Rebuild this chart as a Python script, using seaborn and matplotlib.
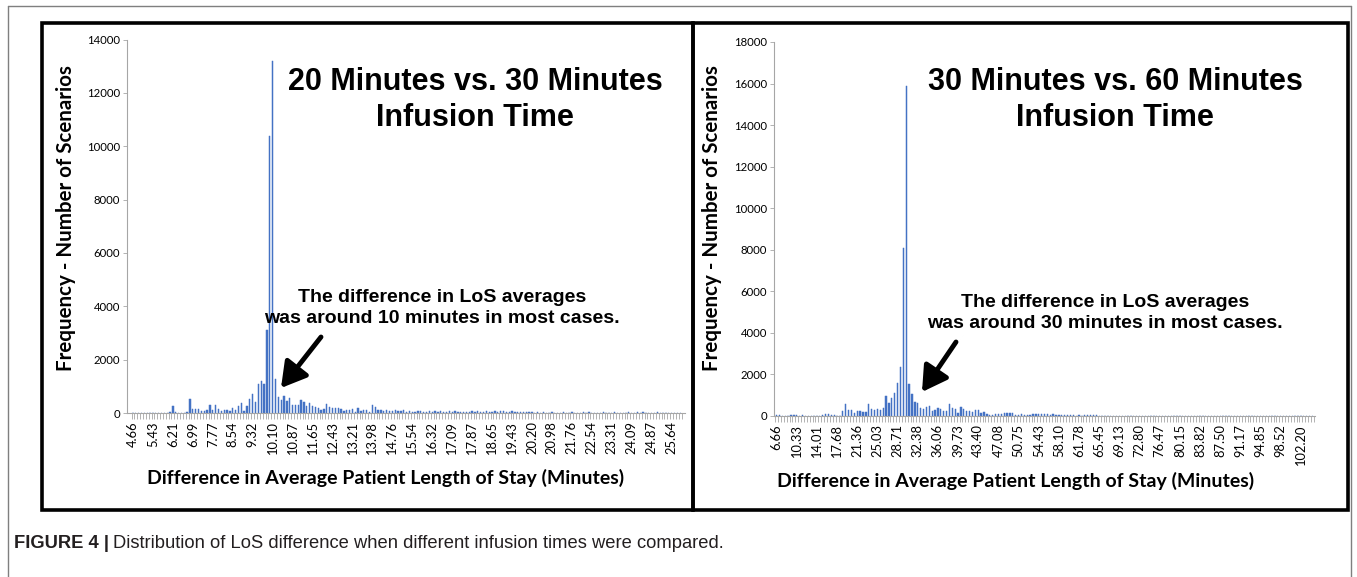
import matplotlib
matplotlib.use('Agg')
import matplotlib.pyplot as plt
import pandas as pd
import seaborn as sns
from matplotlib.lines import Line2D
from matplotlib.patches import FancyArrowPatch, Rectangle

W, H = 1357, 577
BLUE = '#4472C4'
AXIS_GRAY = '#A6A6A6'
LABEL_STEP = 7

# x tick labels (every 7th histogram bin)
left_labels = ['4.66', '5.43', '6.21', '6.99', '7.77', '8.54', '9.32', '10.10', '10.87',
               '11.65', '12.43', '13.21', '13.98', '14.76', '15.54', '16.32', '17.09',
               '17.87', '18.65', '19.43', '20.20', '20.98', '21.76', '22.54', '23.31',
               '24.09', '24.87', '25.64']
right_labels = ['6.66', '10.33', '14.01', '17.68', '21.36', '25.03', '28.71', '32.38',
                '36.06', '39.73', '43.40', '47.08', '50.75', '54.43', '58.10', '61.78',
                '65.45', '69.13', '72.80', '76.47', '80.15', '83.82', '87.50', '91.17',
                '94.85', '98.52', '102.20']

# 20 vs 30 minutes: number of scenarios per bin
left_counts = [
    0, 0, 0, 0, 0, 0, 0, 0, 0, 0,
    0, 0, 0, 20, 250, 30, 0, 0, 0, 30,
    525, 160, 140, 165, 60, 60, 100, 290, 100, 290,
    140, 90, 100, 125, 75, 190, 125, 260, 360, 75,
    275, 525, 710, 410, 1100, 1210, 1090, 3100, 10400, 13200,
    1280, 590, 475, 625, 440, 560, 290, 290, 290, 475,
    400, 275, 375, 250, 225, 190, 125, 165, 340, 210,
    175, 190, 190, 150, 60, 125, 125, 150, 40, 190,
    60, 100, 100, 40, 300, 225, 125, 100, 60, 100,
    90, 60, 125, 60, 90, 125, 25, 60, 25, 40,
    90, 75, 25, 40, 60, 50, 60, 40, 60, 40,
    25, 75, 25, 60, 25, 40, 25, 40, 25, 60,
    40, 60, 25, 40, 75, 40, 25, 60, 40, 90,
    60, 40, 25, 60, 40, 25, 40, 25, 25, 40,
    25, 0, 25, 0, 25, 0, 0, 25, 0, 0,
    0, 25, 0, 0, 25, 0, 0, 0, 25, 0,
    40, 0, 0, 0, 0, 25, 0, 0, 0, 25,
    0, 0, 0, 0, 25, 0, 0, 25, 0, 25,
    0, 0, 0, 0, 25, 0, 0, 0, 0, 0,
    0, 0, 0,
]

# 30 vs 60 minutes: number of scenarios per bin
right_counts = [
    30, 30, 0, 0, 0, 60, 50, 30, 0, 30,
    0, 0, 0, 0, 0, 0, 60, 110, 110, 50,
    30, 15, 10, 256, 576, 290, 290, 128, 256, 240,
    190, 190, 576, 320, 300, 320, 290, 384, 960, 640,
    880, 1120, 1600, 2370, 8080, 15900, 1520, 1056, 670, 640,
    400, 336, 450, 465, 240, 290, 400, 336, 256, 256,
    560, 370, 320, 160, 450, 320, 240, 256, 180, 290,
    290, 128, 210, 80, 30, 64, 80, 96, 96, 160,
    160, 160, 128, 64, 30, 80, 30, 64, 30, 80,
    80, 96, 96, 80, 96, 64, 96, 64, 50, 64,
    50, 30, 50, 50, 15, 50, 15, 30, 30, 30,
    64, 64, 15, 0, 0, 0, 0, 0, 0, 0,
    0, 0, 0, 0, 0, 10, 0, 0, 0, 0,
    0, 0, 0, 0, 10, 0, 0, 0, 0, 0,
    0, 0, 0, 0, 0, 0, 0, 10, 0, 0,
    0, 0, 0, 0, 0, 0, 0, 0, 0, 0,
    0, 0, 0, 0, 0, 0, 0, 0, 0, 0,
    0, 0, 0, 0, 0, 0, 0, 0, 0, 0,
    0, 0, 0, 0, 0, 0, 0,
]

sns.set_theme(style='white')
plt.rcParams['font.family'] = ['Lato', 'DejaVu Sans']
plt.rcParams['text.color'] = 'black'


def px_rect(x0, y0, x1, y1):
    """Pixel box (top-left origin) -> figure fraction rect."""
    return [x0 / W, 1 - y1 / H, (x1 - x0) / W, (y1 - y0) / H]


def fx(x):
    return x / W


def fy(y):
    return 1 - y / H


def draw_hist(fig, rect, counts, labels, ymax, xlim):
    ax = fig.add_axes(rect)
    df = pd.DataFrame({'bin': range(len(counts)), 'count': counts})
    sns.barplot(data=df, x='bin', y='count', native_scale=True, color=BLUE,
                saturation=1, width=0.45, errorbar=None, ax=ax,
                edgecolor=BLUE, linewidth=0.35)
    ax.set_xlim(*xlim)
    ax.set_ylim(0, ymax)
    ax.set_xlabel('')
    ax.set_ylabel('')

    ax.set_xticks([i * LABEL_STEP for i in range(len(labels))])
    ax.set_xticklabels(labels, rotation=90, fontsize=9.3)
    ax.set_xticks([i - 0.5 for i in range(len(counts) + 1)], minor=True)
    ax.set_yticks(range(0, ymax + 1, 2000))
    ax.set_yticklabels([str(v) for v in range(0, ymax + 1, 2000)], fontsize=8.2)

    ax.tick_params(axis='x', which='major', length=0, pad=6, labelcolor='black')
    ax.tick_params(axis='x', which='minor', length=4, width=0.6, color=AXIS_GRAY,
                   direction='out', bottom=True)
    ax.tick_params(axis='y', length=3, width=0.6, color=AXIS_GRAY, direction='out',
                   left=True, pad=2, labelcolor='black')

    for side in ('top', 'right'):
        ax.spines[side].set_visible(False)
    for side in ('left', 'bottom'):
        ax.spines[side].set_color(AXIS_GRAY)
        ax.spines[side].set_linewidth(0.8)
    ax.grid(False)
    return ax


fig = plt.figure(figsize=(W / 100, H / 100), dpi=100)
fig.patch.set_facecolor('white')

# outer thin frame
fig.add_artist(Line2D([fx(8), fx(1351)], [fy(6), fy(6)], color='#7f7f7f', lw=1))
fig.add_artist(Line2D([fx(8), fx(8)], [fy(6), 0], color='#7f7f7f', lw=1))
fig.add_artist(Line2D([fx(1351), fx(1351)], [fy(6), 0], color='#7f7f7f', lw=1))

# thick panel borders
for x0, x1 in [(42, 693), (693, 1348)]:
    r = px_rect(x0, 23, x1, 510)
    fig.add_artist(Rectangle((r[0], r[1]), r[2], r[3], transform=fig.transFigure,
                             fill=False, ec='black', lw=2.6))

draw_hist(fig, px_rect(127, 39.5, 685, 413), left_counts, left_labels, 14000, (-2.1, 193.7))
draw_hist(fig, px_rect(774, 42, 1315, 416), right_counts, right_labels, 18000, (-0.9, 186.9))

# axis titles
for x, y in [(66, 218), (712, 218)]:
    fig.text(fx(x), fy(y), 'Frequency - Number of Scenarios', rotation=90,
             ha='center', va='center', fontsize=14.8, fontweight='bold')
for x, y in [(386, 478), (1016, 481)]:
    fig.text(fx(x), fy(y), 'Difference in Average Patient Length of Stay (Minutes)',
             ha='center', va='center', fontsize=14, fontweight='bold')

# panel headings
heading_font = ['Liberation Sans', 'DejaVu Sans']
fig.text(fx(475), fy(100), '20 Minutes vs. 30 Minutes\nInfusion Time', ha='center',
         va='center', fontsize=22, fontweight='bold', family=heading_font, linespacing=1.3)
fig.text(fx(1115), fy(100), '30 Minutes vs. 60 Minutes\nInfusion Time', ha='center',
         va='center', fontsize=22, fontweight='bold', family=heading_font, linespacing=1.3)

# annotations with arrows
fig.text(fx(442), fy(308), 'The difference in LoS averages\nwas around 10 minutes in most cases.',
         ha='center', va='center', fontsize=14, fontweight='bold', family=heading_font,
         linespacing=1.25)
fig.text(fx(1105), fy(313), 'The difference in LoS averages\nwas around 30 minutes in most cases.',
         ha='center', va='center', fontsize=14, fontweight='bold', family=heading_font,
         linespacing=1.25)
for (xa, ya), (xb, yb) in [((321, 337), (281, 388)), ((956, 342), (922, 392))]:
    fig.add_artist(FancyArrowPatch((fx(xa), fy(ya)), (fx(xb), fy(yb)),
                                   transform=fig.transFigure,
                                   arrowstyle='-|>,head_length=0.6,head_width=0.35',
                                   mutation_scale=25, lw=3.5, color='black',
                                   shrinkA=0, shrinkB=0))

# caption
cap_bold = fig.text(fx(14), fy(543), 'FIGURE 4 |', ha='left', va='center', fontsize=13.2,
                    fontweight='bold', family=heading_font, color='#231f20')
fig.canvas.draw()
bb = cap_bold.get_window_extent(renderer=fig.canvas.get_renderer())
fig.text((bb.x1 + 4) / W, fy(543),
         'Distribution of LoS difference when different infusion times were compared.',
         ha='left', va='center', fontsize=13.2, family=heading_font, color='#231f20')

fig.savefig('out.png', dpi=100)
print('Saved: out.png')
